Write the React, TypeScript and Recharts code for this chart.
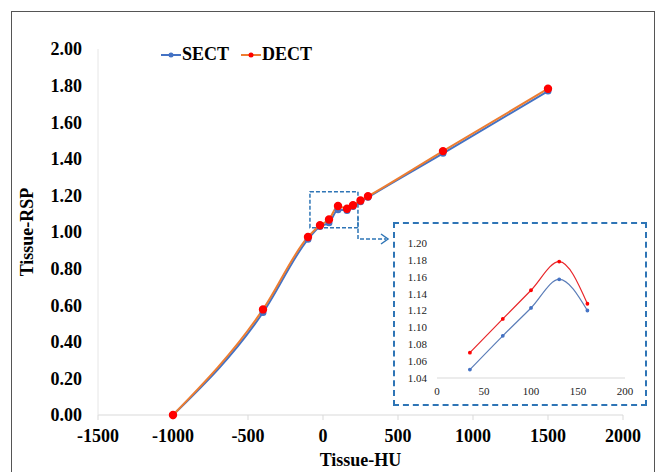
import { LineChart, Line, XAxis, YAxis, Legend, ReferenceArea } from 'recharts';

// main chart
const hu = [-1000, -400, -100, -20, 40, 100, 160, 200, 250, 300, 800, 1500];
const sectRsp = [0.0, 0.56, 0.96, 1.03, 1.05, 1.122, 1.118, 1.14, 1.165, 1.19, 1.43, 1.77];
const dectRsp = [0.0, 0.577, 0.973, 1.037, 1.068, 1.142, 1.127, 1.146, 1.172, 1.195, 1.442, 1.783];
const xTicks = [-1500, -1000, -500, 0, 500, 1000, 1500, 2000];
const yTicks = [0, 0.2, 0.4, 0.6, 0.8, 1.0, 1.2, 1.4, 1.6, 1.8, 2.0];

// inset (zoomed region)
const insetHu = [35, 70, 100, 130, 160];
const insetSect = [1.05, 1.09, 1.123, 1.157, 1.12];
const insetDect = [1.07, 1.11, 1.144, 1.178, 1.128];
const insetXTicks = [0, 50, 100, 150, 200];
const insetYTicks = [1.04, 1.06, 1.08, 1.1, 1.12, 1.14, 1.16, 1.18, 1.2];

// dashed box marking the zoomed region, in data units
const zoomBox = { x1: -87, x2: 233, y1: 1.023, y2: 1.22 };

const mainData = hu.map((h, i) => ({ hu: h, sect: sectRsp[i], dect: dectRsp[i] }));
const insetData = insetHu.map((h, i) => ({ hu: h, sect: insetSect[i], dect: insetDect[i] }));

const SERIF = 'Liberation Serif, Times New Roman, serif';
const BLUE = '#4472C4';
const ORANGE = '#ED7D31';
const RED = '#FF0000';
const BOX = '#2E75B6';

const legendItems = [
  { name: 'SECT', line: BLUE, dot: BLUE },
  { name: 'DECT', line: ORANGE, dot: RED },
];

function LegendContent() {
  return (
    <div style={{ display: 'flex', alignItems: 'center', fontFamily: SERIF, fontWeight: 700, fontSize: 18 }}>
      {legendItems.map((it) => (
        <div key={it.name} style={{ display: 'flex', alignItems: 'center', marginRight: 12 }}>
          <svg width={20} height={10} style={{ marginRight: 1 }}>
            <line x1={0} y1={5} x2={20} y2={5} stroke={it.line} strokeWidth={2} />
            <circle cx={10} cy={5} r={2.5} fill={it.dot} />
          </svg>
          <span>{it.name}</span>
        </div>
      ))}
    </div>
  );
}

export default function App() {
  const tickStyle = { fill: '#000', fontSize: 18, fontWeight: 700, fontFamily: SERIF };
  const insetTick = { fill: '#222', fontSize: 11, fontFamily: SERIF };
  return (
    <div style={{ position: 'absolute', left: 0, top: 0, width: 657, height: 472, background: '#fff', overflow: 'hidden', fontFamily: SERIF }}>
      <div style={{ position: 'absolute', left: 11, top: 11, width: 644, height: 470, border: '1.5px solid #555', boxSizing: 'border-box' }} />
      <div style={{ position: 'absolute', left: 0, top: 0 }}>
        <LineChart width={657} height={472} data={mainData} margin={{ top: 28, right: 34, left: 0, bottom: 0 }} style={{ fontFamily: SERIF }}>
          <XAxis
            dataKey="hu"
            type="number"
            domain={[-1500, 2000]}
            ticks={xTicks}
            interval={0}
            height={57}
            tick={tickStyle}
            tickSize={5}
            tickMargin={9}
            stroke="#D9D9D9"
            label={{ value: 'Tissue-HU', position: 'insideBottom', offset: 6, style: { fill: '#000', fontSize: 18, fontWeight: 700, fontFamily: SERIF } }}
          />
          <YAxis
            type="number"
            domain={[0, 2]}
            ticks={yTicks}
            interval={0}
            width={98}
            tick={tickStyle}
            tickFormatter={(v: number) => v.toFixed(2)}
            tickLine={false}
            tickSize={8}
            tickMargin={8}
            stroke="#E6E6E6"
            label={{ value: 'Tissue-RSP', angle: -90, position: 'insideLeft', offset: 27, style: { fill: '#000', fontSize: 18, fontWeight: 700, fontFamily: SERIF, textAnchor: 'middle' } }}
          />
          <Legend verticalAlign="top" align="left" wrapperStyle={{ top: 44, left: 161, width: 'auto' }} content={<LegendContent />} />
          <ReferenceArea
            x1={zoomBox.x1}
            x2={zoomBox.x2}
            y1={zoomBox.y1}
            y2={zoomBox.y2}
            fill="none"
            fillOpacity={0}
            stroke={BOX}
            strokeWidth={1.5}
            strokeDasharray="4 2"
            ifOverflow="visible"
          />
          <Line type="monotone" dataKey="sect" name="SECT" stroke={BLUE} strokeWidth={2} dot={{ r: 2.5, fill: BLUE, stroke: BLUE }} isAnimationActive={false} />
          <Line type="monotone" dataKey="dect" name="DECT" stroke={ORANGE} strokeWidth={2} dot={{ r: 3.2, fill: RED, stroke: RED }} isAnimationActive={false} />
        </LineChart>
      </div>
      <svg width={657} height={472} style={{ position: 'absolute', left: 0, top: 0, pointerEvents: 'none' }}>
        <polyline points="358,217 358,239 386,239" fill="none" stroke={BOX} strokeWidth={1.5} strokeDasharray="4 2" />
        <polyline points="381,234 388,239 381,244" fill="none" stroke={BOX} strokeWidth={1.5} />
      </svg>
      <div style={{ position: 'absolute', left: 393, top: 222, width: 254, height: 184, border: `2px dashed ${BOX}`, boxSizing: 'border-box', background: '#fff' }} />
      <div style={{ position: 'absolute', left: 394, top: 223 }}>
        <LineChart width={252} height={184} data={insetData} margin={{ top: 20, right: 21, left: 0, bottom: 0 }} style={{ fontFamily: SERIF }}>
          <XAxis dataKey="hu" type="number" domain={[0, 200]} ticks={insetXTicks} interval={0} height={29} tick={insetTick} tickLine={false} tickSize={0} tickMargin={9} stroke="#D9D9D9" />
          <YAxis type="number" domain={[1.04, 1.2]} ticks={insetYTicks} interval={0} width={43} tick={insetTick} tickFormatter={(v: number) => v.toFixed(2)} tickLine={false} axisLine={false} tickSize={0} tickMargin={10} />
          <Line type="monotone" dataKey="sect" stroke="#5B7DB8" strokeWidth={1.2} dot={{ r: 1.3, fill: '#4472C4', stroke: '#4472C4' }} isAnimationActive={false} />
          <Line type="monotone" dataKey="dect" stroke="#E8262A" strokeWidth={1.2} dot={{ r: 1.3, fill: RED, stroke: RED }} isAnimationActive={false} />
        </LineChart>
      </div>
    </div>
  );
}
